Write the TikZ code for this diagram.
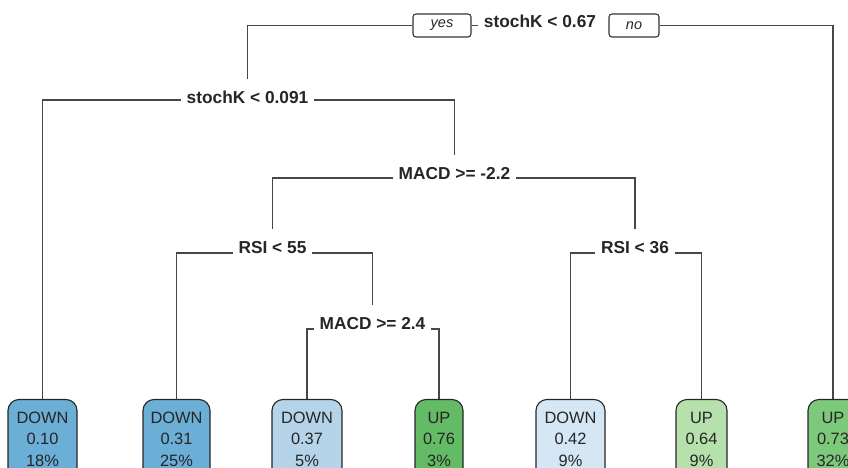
\documentclass[tikz,border=0pt]{standalone}
\usepackage{fontspec}
\setmainfont{Liberation Sans}
\usetikzlibrary{calc,backgrounds}
\definecolor{blueA}{HTML}{6BAED6}
\definecolor{blueB}{HTML}{B5D4E9}
\definecolor{blueC}{HTML}{D5E6F5}
\definecolor{greenA}{HTML}{63BB65}
\definecolor{greenB}{HTML}{B6E1AC}
\definecolor{greenC}{HTML}{7DC97C}
\begin{document}
\begin{tikzpicture}[x=1pt,y=-1pt,
 split/.style={font=\fontsize{17.3}{20}\bfseries\selectfont, text=black!85, fill=white,
   inner xsep=6pt, inner ysep=0pt, text height=13pt, text depth=4pt, minimum height=40pt},
 leaf/.style={draw=black!85, line width=1.1pt, rounded corners=11pt, align=center,
   font=\fontsize{16.4}{21.5}\selectfont, text=black!85, minimum height=79pt, inner xsep=0pt},
 edge/.style={draw=black!72, line width=1.8pt},
 yn/.style={draw=black!80, line width=1.1pt, rounded corners=3pt, fill=white,
   minimum height=23pt, inner sep=0pt, text=black!85,
   font=\fontsize{14.5}{15}\itshape\selectfont}
]
\useasboundingbox (0,0) rectangle (848,468);
\clip (0,0) rectangle (848,468);

% split labels
\node[split] (s1) at (540,23) {stochK < 0.67};
\node[split] (s2) at (247.5,99) {stochK < 0.091};
\node[split] (s3) at (454.5,175) {MACD >= -2.2};
\node[split] (s4) at (272.5,249) {RSI < 55};
\node[split] (s5) at (372.5,325) {MACD >= 2.4};
\node[split] (s6) at (635,249) {RSI < 36};

% yes / no
\node[yn, minimum width=58pt] (yes) at (442,25.5) {yes};
\node[yn, minimum width=50pt] (no) at (634,25.5) {no};

% leaves
\node[leaf, fill=blueA, minimum width=69pt] (l1) at (42.5,439) {DOWN\\0.10\\18\%};
\node[leaf, fill=blueA, minimum width=67pt] (l2) at (176.5,439) {DOWN\\0.31\\25\%};
\node[leaf, fill=blueB, minimum width=70pt] (l3) at (307,439) {DOWN\\0.37\\5\%};
\node[leaf, fill=greenA, minimum width=48pt] (l4) at (439,439) {UP\\0.76\\3\%};
\node[leaf, fill=blueC, minimum width=69pt] (l5) at (570.5,439) {DOWN\\0.42\\9\%};
\node[leaf, fill=greenB, minimum width=51pt] (l6) at (701.5,439) {UP\\0.64\\9\%};
\node[leaf, fill=greenC, minimum width=50pt] (l7) at (833,439) {UP\\0.73\\32\%};

\begin{pgfonlayer}{background}
\draw[edge] (yes.west) -| (s2.north);
\draw[edge] (yes.east) -- (s1.west |- yes.east);
\draw[edge] (no.east) -| (l7.north);
\draw[edge] (l1.north) |- ($(s2.center)+(0,1)$) -| (s3.north);
\draw[edge] (s4.north) |- ($(s3.center)+(0,3)$) -| (s6.north);
\draw[edge] (l2.north) |- ($(s4.center)+(0,4)$) -| (s5.north);
\draw[edge] (l3.north) |- ($(s5.center)+(0,4)$) -| (l4.north);
\draw[edge] (l5.north) |- ($(s6.center)+(0,4)$) -| (l6.north);
\end{pgfonlayer}
\end{tikzpicture}
\end{document}
